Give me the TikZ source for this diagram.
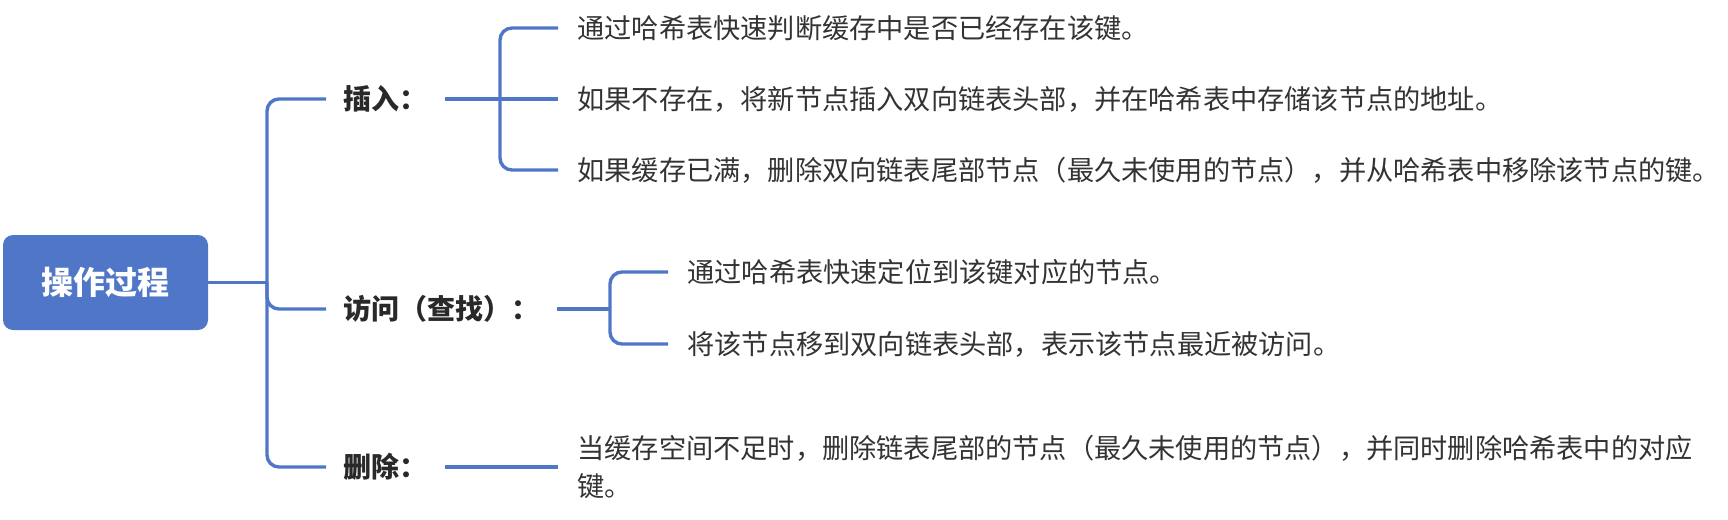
\documentclass[tikz,border=0pt]{standalone}
\usepackage{fontspec}
\newfontfamily\cjk{Noto Sans CJK SC}
\definecolor{mapblue}{HTML}{5077C7}
\definecolor{maptext}{HTML}{333333}
\tikzset{
	branch/.style={draw=mapblue,line width=1.7pt,rounded corners=6pt},
	rootbox/.style={fill=mapblue,rounded corners=5pt,minimum width=102.5pt,minimum height=47.5pt,text=white,font=\cjk\bfseries\fontsize{16pt}{16pt}\selectfont},
	topic/.style={anchor=west,inner xsep=8.5pt,inner ysep=0pt,text=maptext!80!black,font=\cjk\bfseries\fontsize{14pt}{14pt}\selectfont},
	leaf/.style={anchor=west,inner xsep=9.5pt,inner ysep=0pt,text=maptext,align=left,font=\cjk\fontsize{13.6pt}{19pt}\selectfont},
}
\begin{document}
\begin{tikzpicture}[x=0.5pt,y=-0.5pt]
	\useasboundingbox (0,0) rectangle (1728,519);
	\node[rootbox] (root) at (105.5,282.5) {操作过程};
	\coordinate (trunk) at (267,282.5);
	\node[topic] (ins) at (326,99) {插入：};
	\node[topic] (acc) at (326,309) {访问（查找）：};
	\node[topic] (del) at (326,467) {删除：};
	\coordinate (ibr) at (500,99);
	\coordinate (abr) at (610,309);
	\node[leaf] (i1) at (558,28) {通过哈希表快速判断缓存中是否已经存在该键。};
	\node[leaf] (i2) at (558,99) {如果不存在，将新节点插入双向链表头部，并在哈希表中存储该节点的地址。};
	\node[leaf] (i3) at (558,170) {如果缓存已满，删除双向链表尾部节点（最久未使用的节点），并从哈希表中移除该节点的键。};
	\node[leaf] (a1) at (668,272) {通过哈希表快速定位到该键对应的节点。};
	\node[leaf] (a2) at (668,344) {将该节点移到双向链表头部，表示该节点最近被访问。};
	\node[leaf] (d1) at (558,467) {当缓存空间不足时，删除链表尾部的节点（最久未使用的节点），并同时删除哈希表中的对应\\键。};
	\draw[branch] (root.east) -- (trunk);
	\draw[branch] (ins.west) -| (trunk) |- (del.west);
	\draw[branch] (trunk) |- (acc.west);
	\draw[branch] (ins.east) -- (i2.west);
	\draw[branch] (i1.west) -| (ibr) |- (i3.west);
	\draw[branch] (acc.east) -- (abr);
	\draw[branch] (a1.west) -| (abr) |- (a2.west);
	\draw[branch] (del.east) -- (d1.west);
\end{tikzpicture}
\end{document}
